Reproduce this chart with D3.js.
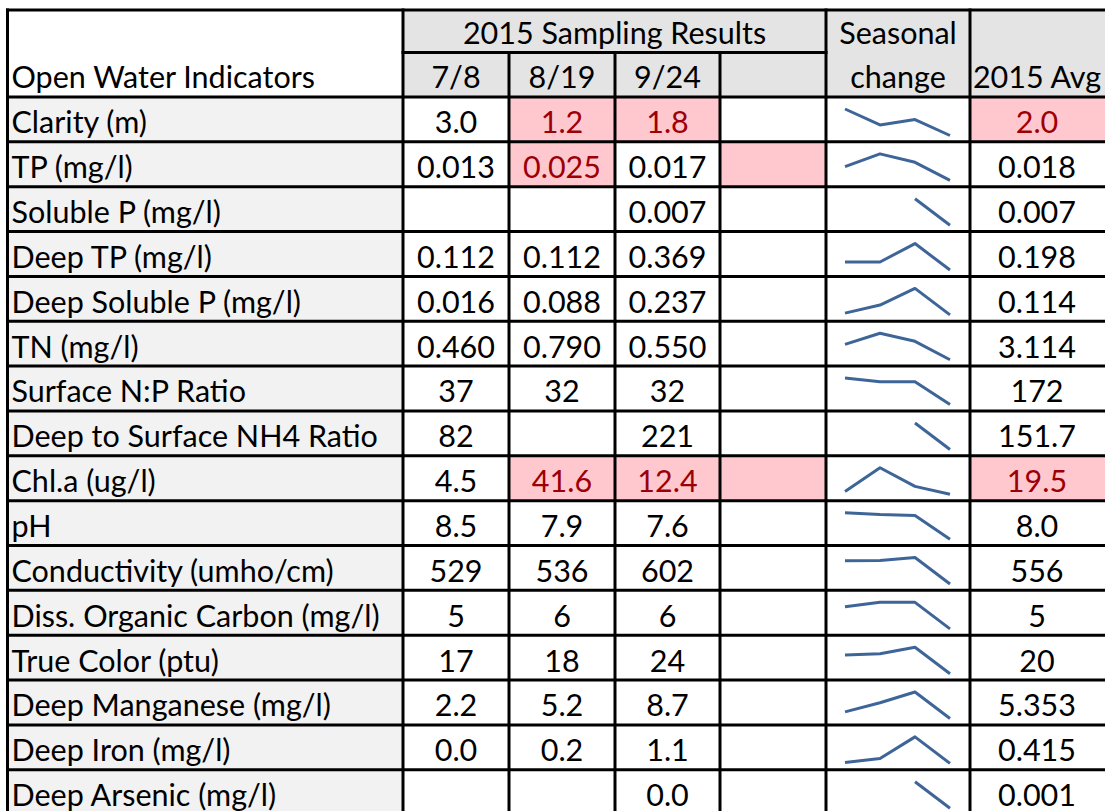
<!DOCTYPE html>
<html>
<head>
<meta charset="utf-8">
<script src="https://cdn.jsdelivr.net/npm/d3@7"></script>
<style>
  html, body { margin: 0; padding: 0; background: #fff; overflow: hidden; }
  svg { display: block; }
  text { font-family: Lato, "Open Sans", sans-serif; }
</style>
</head>
<body>
<svg id="chart" width="1105" height="811"></svg>
<script>
// ---------------- data ----------------
const indicators = [
  "Clarity (m)", "TP (mg/l)", "Soluble P (mg/l)", "Deep TP (mg/l)",
  "Deep Soluble P (mg/l)", "TN (mg/l)", "Surface N:P Ratio",
  "Deep to Surface NH4 Ratio", "Chl.a (ug/l)", "pH",
  "Conductivity (umho/cm)", "Diss. Organic Carbon (mg/l)",
  "True Color (ptu)", "Deep Manganese (mg/l)", "Deep Iron (mg/l)",
  "Deep Arsenic (mg/l)"
];
const sampleDates = ["7/8", "8/19", "9/24", ""];
const jul8  = [3.0, 0.013, null,  0.112, 0.016, 0.460, 37, 82,   4.5,  8.5, 529, 5, 17, 2.2, 0.04, null];
const aug19 = [1.2, 0.025, null,  0.112, 0.088, 0.790, 32, null, 41.6, 7.9, 536, 6, 18, 5.2, 0.2,  null];
const sep24 = [1.8, 0.017, 0.007, 0.369, 0.237, 0.550, 32, 221,  12.4, 7.6, 602, 6, 24, 8.7, 1.1,  0.001];
const blankColumn = [0, 0, 0, 0, 0, 0, 0, 0, 0, 0, 0, 0, 0, 0, 0, 0];
const avg2015 = [2.0, 0.018, 0.007, 0.198, 0.114, 3.114, 172, 151.7, 19.5, 8.0, 556, 5, 20, 5.353, 0.415, 0.001];
const sampleDecimals = [1, 3, 3, 3, 3, 3, 0, 0, 1, 1, 0, 0, 0, 1, 1, 1];
const avgDecimals    = [1, 3, 3, 3, 3, 3, 0, 1, 1, 1, 0, 0, 0, 3, 3, 3];
// highlighted cells (light red fill, dark red text): 0..3 = sample columns, 4 = average
const highlightCells = [
  ["Clarity (m)", 1], ["Clarity (m)", 2], ["Clarity (m)", 4],
  ["TP (mg/l)", 1], ["TP (mg/l)", 3],
  ["Chl.a (ug/l)", 1], ["Chl.a (ug/l)", 2], ["Chl.a (ug/l)", 3], ["Chl.a (ug/l)", 4]
];
const headerGroup = "2015 Sampling Results";
const headerFirst = "Open Water Indicators";
const headerSpark = ["Seasonal", "change"];
const headerAvg = "2015 Avg";

// ---------------- layout ----------------
const svg = d3.select("#chart");
const colEdges = [7.5, 403, 509, 615, 720, 826, 970, 1108];
const headTop = 10, headMid = 52.5, headBottom = 97, rowH = 44.85;
const fontSize = 30.5;
const C = {
  head: "#e4e4e4", label: "#f2f2f2", white: "#ffffff",
  hiFill: "#ffc7ce", hiText: "#9c0006", spark: "#3e6598", line: "#000"
};

const yRow = d3.scaleBand().domain(d3.range(indicators.length))
  .range([headBottom, headBottom + rowH * indicators.length]).paddingInner(0).paddingOuter(0);

const hiSet = new Set(highlightCells.map(d => d[0] + "|" + d[1]));

const gCells = svg.append("g");
const gText = svg.append("g");
const gSpark = svg.append("g");
const gLines = svg.append("g");

// header backgrounds
gCells.append("rect").attr("x", colEdges[0]).attr("y", headTop)
  .attr("width", colEdges[1] - colEdges[0]).attr("height", headBottom - headTop).attr("fill", C.white);
gCells.append("rect").attr("x", colEdges[1]).attr("y", headTop)
  .attr("width", colEdges[7] - colEdges[1]).attr("height", headBottom - headTop).attr("fill", C.head);

// header texts
gText.append("text").attr("x", colEdges[0] + 4).attr("y", headBottom - 9.5)
  .attr("font-size", fontSize).text(headerFirst);
gText.append("text").attr("x", (colEdges[1] + colEdges[5]) / 2).attr("y", headMid - 9)
  .attr("text-anchor", "middle").attr("font-size", fontSize).text(headerGroup);
sampleDates.forEach((d, i) => {
  gText.append("text").attr("x", (colEdges[1 + i] + colEdges[2 + i]) / 2).attr("y", headBottom - 9.5)
    .attr("text-anchor", "middle").attr("font-size", fontSize).text(d);
});
gText.append("text").attr("x", (colEdges[5] + colEdges[6]) / 2).attr("y", headMid - 9)
  .attr("text-anchor", "middle").attr("font-size", fontSize).text(headerSpark[0]);
gText.append("text").attr("x", (colEdges[5] + colEdges[6]) / 2).attr("y", headBottom - 9.5)
  .attr("text-anchor", "middle").attr("font-size", fontSize).text(headerSpark[1]);
gText.append("text").attr("x", (colEdges[6] + colEdges[7]) / 2 - 2).attr("y", headBottom - 9.5)
  .attr("text-anchor", "middle").attr("font-size", fontSize).text(headerAvg);

// body
const columns = [jul8, aug19, sep24, blankColumn];
indicators.forEach((name, r) => {
  const y0 = yRow(r), h = yRow.bandwidth();
  // label cell
  gCells.append("rect").attr("x", colEdges[0]).attr("y", y0).attr("width", colEdges[1] - colEdges[0])
    .attr("height", h).attr("fill", C.label);
  gText.append("text").attr("x", colEdges[0] + 4).attr("y", y0 + h - 8.5)
    .attr("font-size", fontSize).text(name);
  // value cells (4 sample columns + avg)
  for (let c = 0; c < 5; c++) {
    const xa = c < 4 ? colEdges[1 + c] : colEdges[6];
    const xb = c < 4 ? colEdges[2 + c] : colEdges[7];
    const hi = hiSet.has(name + "|" + c);
    gCells.append("rect").attr("x", xa).attr("y", y0).attr("width", xb - xa).attr("height", h)
      .attr("fill", hi ? C.hiFill : C.white);
    let v = null, dec = 0;
    if (c < 3) { v = columns[c][r]; dec = sampleDecimals[r]; }
    else if (c === 4) { v = avg2015[r]; dec = avgDecimals[r]; }
    if (v !== null) {
      gText.append("text").attr("x", (xa + xb) / 2 - (c === 4 ? 2 : 0)).attr("y", y0 + h - 8.5)
        .attr("text-anchor", "middle").attr("font-size", fontSize)
        .attr("fill", hi ? C.hiText : "#000")
        .text(d3.format("." + dec + "f")(v));
    }
  }
  // seasonal change sparkline cell
  gCells.append("rect").attr("x", colEdges[5]).attr("y", y0).attr("width", colEdges[6] - colEdges[5])
    .attr("height", h).attr("fill", C.white);
  const vals = columns.map(col => col[r]);
  const xs = d3.scalePoint().domain(d3.range(vals.length)).range([colEdges[5] + 19, colEdges[5] + 124]);
  const ext = d3.extent(vals.filter(v => v !== null));
  const ys = d3.scaleLinear().domain(ext).range([y0 + 38.5, y0 + 12]);
  const line = d3.line().defined(v => v !== null).x((v, i) => xs(i)).y(v => ys(v));
  gSpark.append("path").attr("d", line(vals)).attr("fill", "none")
    .attr("stroke", C.spark).attr("stroke-width", 3)
    .attr("stroke-linejoin", "round").attr("stroke-linecap", "butt");
});

// grid lines
const bottomY = headBottom + rowH * indicators.length;
const stroke = (x1, y1, x2, y2) => gLines.append("line")
  .attr("x1", x1).attr("y1", y1).attr("x2", x2).attr("y2", y2)
  .attr("stroke", C.line).attr("stroke-width", 3).attr("stroke-linecap", "square");
// top border
stroke(colEdges[0], headTop, colEdges[7], headTop);
// header mid line (only under the sample group)
stroke(colEdges[1], headMid, colEdges[5], headMid);
// horizontal row lines
for (let r = 0; r <= indicators.length; r++) {
  const y = headBottom + rowH * r;
  stroke(colEdges[0], y, colEdges[7], y);
}
// verticals
stroke(colEdges[0], headTop, colEdges[0], bottomY);
stroke(colEdges[1], headTop, colEdges[1], bottomY);
for (let i = 2; i <= 4; i++) stroke(colEdges[i], headMid, colEdges[i], bottomY);
stroke(colEdges[5], headTop, colEdges[5], bottomY);
stroke(colEdges[6], headTop, colEdges[6], bottomY);
stroke(colEdges[7], headTop, colEdges[7], bottomY);
</script>
</body>
</html>
